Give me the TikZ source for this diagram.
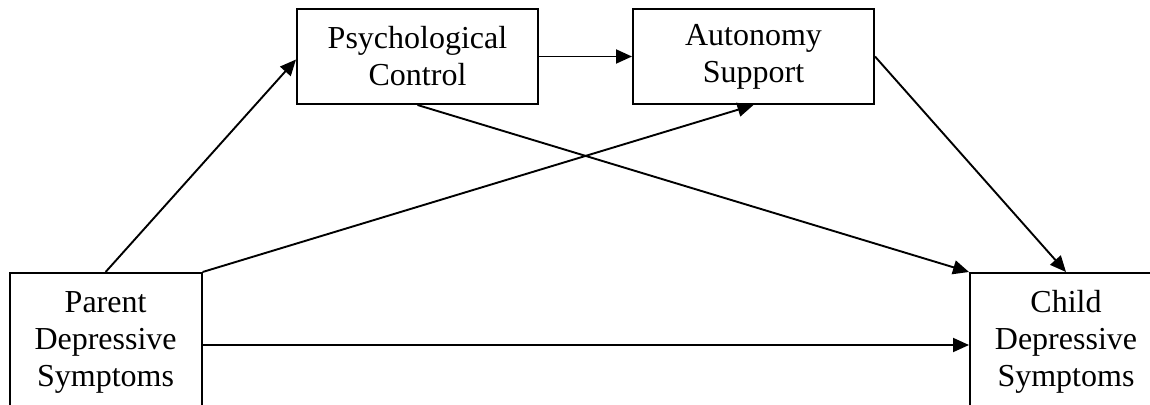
\documentclass[tikz,border=0pt]{standalone}
\usepackage{fontspec}
\setmainfont{Liberation Serif}
\usetikzlibrary{arrows.meta,calc}

\tikzset{
  box/.style={draw, line width=2pt, align=center, inner sep=0pt,
    font=\fontsize{32}{37}\selectfont},
  path/.style={line width=1.9pt, -{Triangle[length=16pt,width=14pt]}}
}

\begin{document}
\begin{tikzpicture}[x=1pt, y=-1pt]
  \useasboundingbox (0,0) rectangle (1150,404);
  \clip (0,0) rectangle (1150,404);
  \fill[white] (0,0) rectangle (1150,404);

  % variables of the mediation model
  \node[box, minimum width=192pt, minimum height=138pt] (parent) at (105.6,342)
    {Parent\\Depressive\\Symptoms};
  \node[box, minimum width=192pt, minimum height=138pt] (child) at (1066,342)
    {Child\\Depressive\\Symptoms};
  \node[box, minimum width=241pt, minimum height=95pt] (psych) at (417.5,56.5)
    {Psychological\\Control};
  \node[box, minimum width=241pt, minimum height=95pt] (auto) at (753.5,56.5)
    {Autonomy\\Support};

  % paths
  \draw[path] (parent.north) -- ($(psych.west)+(0,3)$);
  \draw[path] (psych.east) -- (auto.west);
  \draw[path] (parent.north east) -- (auto.south);
  \draw[path] (psych.south) -- (child.north west);
  \draw[path] (auto.east) -- (child.north);
  \draw[path] ($(parent.east)+(0,3)$) -- ($(child.west)+(0,3)$);
\end{tikzpicture}
\end{document}
